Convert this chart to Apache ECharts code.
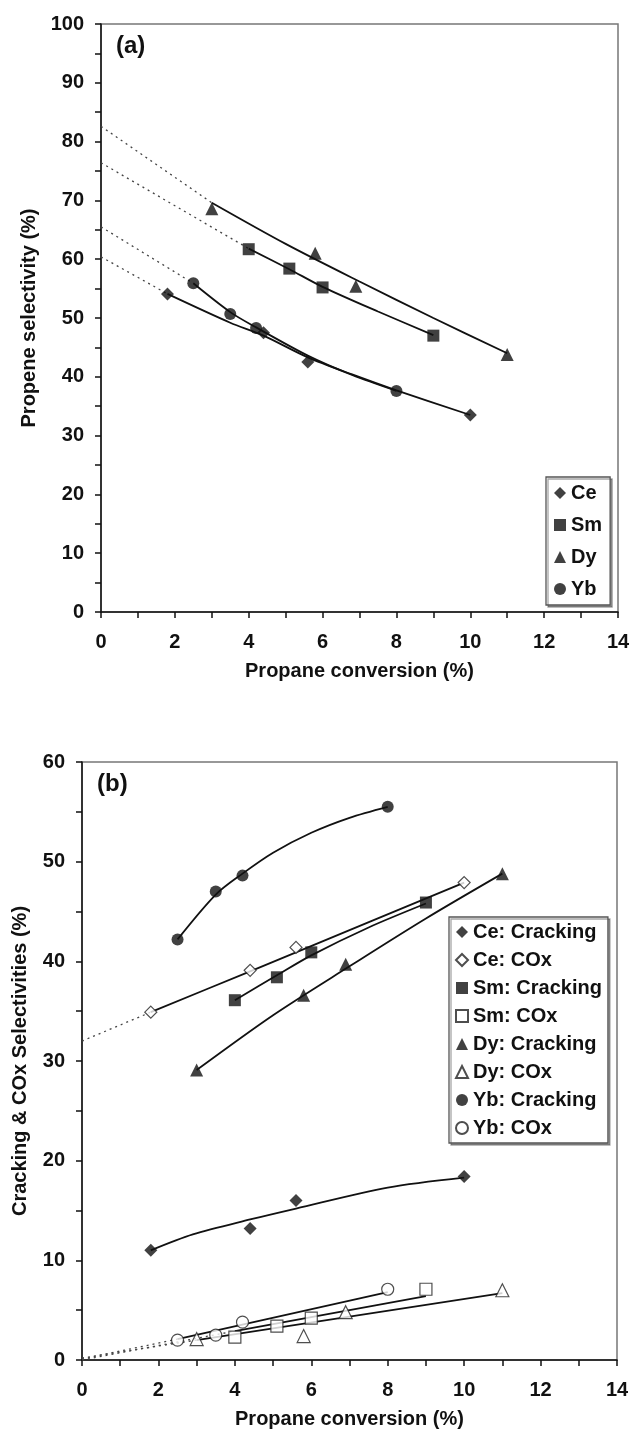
<!DOCTYPE html>
<html>
<head>
<meta charset="utf-8">
<script src="https://cdn.jsdelivr.net/npm/echarts/dist/echarts.min.js"></script>
<style>
    html, body { margin: 0; padding: 0; background: #fff; }
    #chart { width: 632px; height: 1442px; }
</style>
</head>
<body>
<div id="chart"></div>
<script>
    // propane conversion (%) of the four catalysts, shared by both panels
    const ceConv = [1.8, 4.4, 5.6, 10.0];
    const smConv = [4.0, 5.1, 6.0, 9.0];
    const dyConv = [3.0, 5.8, 6.9, 11.0];
    const ybConv = [2.5, 3.5, 4.2, 8.0];

    // panel (a): propene selectivity (%)
    const cePropene = [54.1, 47.5, 42.5, 33.5];
    const smPropene = [61.7, 58.4, 55.2, 47.0];
    const dyPropene = [68.6, 61.0, 55.4, 43.8];
    const ybPropene = [55.9, 50.7, 48.3, 37.6];

    // panel (b): cracking and COx selectivities (%)
    const ceCracking = [11.0, 13.2, 16.0, 18.4];
    const ceCOx = [34.9, 39.1, 41.4, 47.9];
    const smCracking = [36.1, 38.4, 40.9, 45.9];
    const smCOx = [2.3, 3.4, 4.2, 7.1];
    const dyCracking = [29.1, 36.6, 39.7, 48.8];
    const dyCOx = [2.1, 2.4, 4.8, 7.0];
    const ybCracking = [42.2, 47.0, 48.6, 55.5];
    const ybCOx = [2.0, 2.5, 3.8, 7.1];

    // trend lines (solid part, then dotted back-extension)
    const ceFitA = [[1.8, 54.1], [3.5, 49.2], [4.4, 47.0], [5.6, 43.3], [6.8, 40.4], [8, 37.7], [10, 33.5]];
    const smFitA = [[4, 61.8], [5.1, 58.3], [6, 55.3], [7.5, 51.1], [9, 47.1]];
    const dyFitA = [[3, 69.6], [5, 62.6], [7, 56.2], [9, 50.0], [11, 44.0]];
    const ybFitA = [[2.5, 55.9], [3.5, 51.0], [4.2, 48.4], [5.6, 43.6], [6.8, 40.3], [8, 37.6]];
    const ceBackA = [[0, 60.4], [1.8, 54.1]];
    const smBackA = [[0, 76.4], [4, 61.8]];
    const dyBackA = [[0, 82.6], [3, 69.6]];
    const ybBackA = [[0, 65.5], [2.5, 55.9]];

    const ceCrackFit = [[1.8, 11.0], [2.9, 12.6], [4.4, 14.1], [5.6, 15.2], [8, 17.3], [10, 18.3]];
    const ceCOxFit = [[1.8, 34.9], [4.4, 39.0], [5.6, 40.9], [10, 47.9]];
    const smCrackFit = [[4, 36.1], [5.1, 38.6], [6, 40.6], [7.5, 43.4], [9, 45.8]];
    const dyCrackFit = [[3, 29.1], [5, 34.6], [7, 39.5], [9, 44.3], [11, 48.8]];
    const ybCrackFit = [[2.5, 42.2], [3.5, 46.7], [4.2, 48.8], [5, 50.9], [6, 52.9], [7, 54.4], [8, 55.5]];
    const ybCOxFit = [[2.5, 2.1], [8, 6.8]];
    const smCOxFit = [[4, 2.9], [9, 6.4]];
    const dyCOxFit = [[3, 2.0], [11, 6.7]];
    const ceCOxBack = [[0, 32.0], [1.8, 34.9]];
    const ybCOxBack = [[0, 0.1], [2.5, 2.1]];
    const smCOxBack = [[0, 0.0], [4, 2.9]];
    const dyCOxBack = [[0, 0.2], [3, 2.0]];

    const FONT = '"Liberation Sans", Arial, Helvetica, sans-serif';
    const INK = '#111';

    function pts(xs, ys) {
        return xs.map((x, i) => [x, ys[i]]);
    }

    function xAxisFor(idx, gap) {
        return {
            gridIndex: idx, type: 'value', min: 0, max: 14, interval: 1,
            name: 'Propane conversion (%)', nameLocation: 'middle', nameGap: gap,
            nameTextStyle: { fontFamily: FONT, fontWeight: 'bold', fontSize: 20, color: INK },
            axisLine: { lineStyle: { color: INK, width: 1.5 } },
            axisTick: { length: 6, lineStyle: { color: INK, width: 1.5 } },
            axisLabel: {
                margin: 20, fontFamily: FONT, fontWeight: 'bold', fontSize: 20, color: INK,
                formatter: v => (v % 2 === 0 ? String(v) : '')
            },
            splitLine: { show: false }
        };
    }

    function yAxisFor(idx, max, title, gap) {
        return {
            gridIndex: idx, type: 'value', min: 0, max: max, interval: 5,
            name: title, nameLocation: 'middle', nameGap: gap,
            nameTextStyle: { fontFamily: FONT, fontWeight: 'bold', fontSize: 20, color: INK },
            axisLine: { lineStyle: { color: INK, width: 1.5 } },
            axisTick: { length: 6, lineStyle: { color: INK, width: 1.5 } },
            axisLabel: {
                margin: 17, fontFamily: FONT, fontWeight: 'bold', fontSize: 20, color: INK,
                formatter: v => (v % 10 === 0 ? String(v) : '')
            },
            splitLine: { show: false }
        };
    }

    function marks(name, idx, data, symbol, size, open) {
        return {
            name: name, type: 'scatter', xAxisIndex: idx, yAxisIndex: idx,
            data: data, symbol: symbol, symbolSize: size, z: 5,
            itemStyle: open
                ? { color: '#fff', borderColor: '#222', borderWidth: 1.2 }
                : { color: INK, borderColor: INK, borderWidth: 0 }
        };
    }

    function fit(idx, data, dotted) {
        return {
            type: 'line', xAxisIndex: idx, yAxisIndex: idx, data: data,
            showSymbol: false, smooth: dotted ? false : 0.3, silent: true, z: 3,
            lineStyle: dotted
                ? { color: '#444', width: 1.3, type: [2, 4] }
                : { color: INK, width: 1.8 }
        };
    }

    function legendFor(left, top, names, gap, pad) {
        return {
            left: left, top: top, orient: 'vertical', selectedMode: false,
            data: names, itemWidth: 12, itemHeight: 12, itemGap: gap, padding: pad,
            backgroundColor: '#fff', borderColor: '#555', borderWidth: 1.3,
            shadowColor: 'rgba(0,0,0,0.35)', shadowOffsetX: 2, shadowOffsetY: 2,
            textStyle: { fontFamily: FONT, fontWeight: 'bold', fontSize: 20, lineHeight: 20, color: INK }
        };
    }

    const chart = echarts.init(document.getElementById('chart'), null, { renderer: 'canvas' });

    const option = {
        animation: false,
        backgroundColor: '#fff',
        grid: [
            { left: 101, top: 24, width: 517, height: 588, show: true, borderColor: '#777', borderWidth: 1.5, outerBoundsMode: 'none' },
            { left: 82, top: 762, width: 535, height: 598, show: true, borderColor: '#777', borderWidth: 1.5, outerBoundsMode: 'none' }
        ],
        xAxis: [xAxisFor(0, 49), xAxisFor(1, 49)],
        yAxis: [
            yAxisFor(0, 100, 'Propene selectivity (%)', 58),
            yAxisFor(1, 60, 'Cracking & COx Selectivities (%)', 52)
        ],
        legend: [
            legendFor(546, 477, ['Ce', 'Sm', 'Dy', 'Yb'], 12, [6, 8, 6, 8]),
            legendFor(449, 917,
                ['Ce: Cracking', 'Ce: COx', 'Sm: Cracking', 'Sm: COx',
                 'Dy: Cracking', 'Dy: COx', 'Yb: Cracking', 'Yb: COx'], 8, [5, 6, 5, 6])
        ],
        graphic: [
            { type: 'text', left: 116, top: 34, style: { text: '(a)', font: 'bold 24px ' + FONT, fill: INK } },
            { type: 'text', left: 97, top: 772, style: { text: '(b)', font: 'bold 24px ' + FONT, fill: INK } }
        ],
        series: [
            // panel (a)
            fit(0, ceBackA, true), fit(0, smBackA, true), fit(0, dyBackA, true), fit(0, ybBackA, true),
            fit(0, ceFitA), fit(0, smFitA), fit(0, dyFitA), fit(0, ybFitA),
            marks('Ce', 0, pts(ceConv, cePropene), 'diamond', 13),
            marks('Sm', 0, pts(smConv, smPropene), 'rect', 12),
            marks('Dy', 0, pts(dyConv, dyPropene), 'triangle', 13),
            marks('Yb', 0, pts(ybConv, ybPropene), 'circle', 12),
            // panel (b)
            fit(1, ceCOxBack, true), fit(1, ybCOxBack, true), fit(1, smCOxBack, true), fit(1, dyCOxBack, true),
            fit(1, ceCrackFit), fit(1, ceCOxFit), fit(1, smCrackFit), fit(1, dyCrackFit),
            fit(1, ybCrackFit), fit(1, ybCOxFit), fit(1, smCOxFit), fit(1, dyCOxFit),
            marks('Ce: Cracking', 1, pts(ceConv, ceCracking), 'diamond', 13),
            marks('Ce: COx', 1, pts(ceConv, ceCOx), 'diamond', 12, true),
            marks('Sm: Cracking', 1, pts(smConv, smCracking), 'rect', 12),
            marks('Sm: COx', 1, pts(smConv, smCOx), 'rect', 12, true),
            marks('Dy: Cracking', 1, pts(dyConv, dyCracking), 'triangle', 13),
            marks('Dy: COx', 1, pts(dyConv, dyCOx), 'triangle', 13, true),
            marks('Yb: Cracking', 1, pts(ybConv, ybCracking), 'circle', 12),
            marks('Yb: COx', 1, pts(ybConv, ybCOx), 'circle', 12, true)
        ]
    };

    chart.setOption(option);
</script>
</body>
</html>
